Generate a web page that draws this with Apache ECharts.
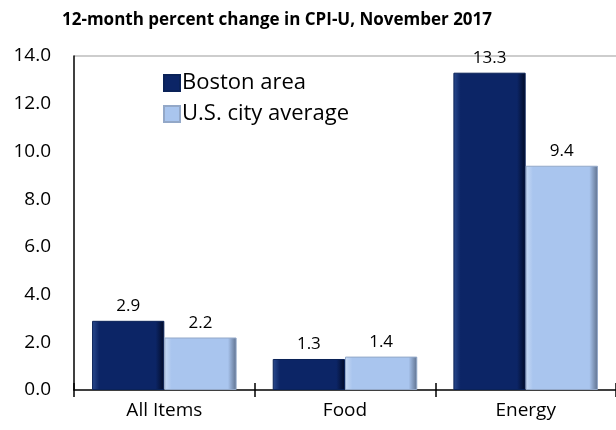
<!DOCTYPE html>
<html>
<head>
<meta charset="utf-8">
<script src="https://cdn.jsdelivr.net/npm/echarts@6/dist/echarts.min.js"></script>
<style>
  html, body { margin: 0; padding: 0; background: #fff; }
  #main { width: 616px; height: 430px; }
</style>
</head>
<body>
<div id="main"></div>
<script>
var categories = ["All Items", "Food", "Energy"];
var boston = [2.9, 1.3, 13.3];
var usAverage = [2.2, 1.4, 9.4];
var seriesNames = ["Boston area", "U.S. city average"];

var chart = echarts.init(document.getElementById("main"));

// bevel look: horizontal gradient, darker at the right edge
function bevel(light, mid, dark) {
  return new echarts.graphic.LinearGradient(0, 0, 1, 0, [
    { offset: 0, color: light },
    { offset: 0.1, color: mid },
    { offset: 0.88, color: mid },
    { offset: 1, color: dark }
  ]);
}

var labelStyle = {
  show: true,
  position: "top",
  distance: 6,
  fontFamily: "Open Sans",
  fontSize: 17,
  color: "#000",
  formatter: function (p) { return p.value.toFixed(1); }
};

var option = {
  animation: false,
  title: {
    text: "12-month percent change in CPI-U, November 2017",
    left: 57,
    top: 7,
    textStyle: { fontFamily: "Open Sans", fontWeight: "bold", fontSize: 17, color: "#000" }
  },
  legend: {
    orient: "vertical",
    left: 158,
    top: 67,
    itemWidth: 16,
    itemHeight: 16,
    itemGap: 9,
    icon: "rect",
    textStyle: { fontFamily: "Open Sans", fontSize: 22, color: "#000", padding: [0, 0, 0, -3] },
    data: seriesNames
  },
  grid: { left: 74, right: 0, top: 56, bottom: 40 },
  xAxis: [
    {
      type: "category",
      data: categories,
      axisLine: { lineStyle: { color: "#000", width: 1.5 } },
      axisTick: { show: true, length: 7, lineStyle: { color: "#000", width: 1.5 } },
      axisLabel: { fontFamily: "Open Sans", fontSize: 19, color: "#000", margin: 11 }
    },
    {
      type: "category",
      data: categories,
      position: "bottom",
      axisLine: { show: false },
      axisTick: { show: true, inside: true, length: 7, lineStyle: { color: "#000", width: 1.5 } },
      axisLabel: { show: false }
    }
  ],
  yAxis: {
    type: "value",
    min: 0,
    max: 14,
    interval: 2,
    axisLine: { show: true, lineStyle: { color: "#000", width: 1.5 } },
    axisTick: { show: false },
    axisLabel: {
      fontFamily: "Open Sans",
      fontSize: 19,
      color: "#000",
      margin: 23,
      formatter: function (v) { return v.toFixed(1); }
    },
    splitLine: {
      show: true,
      lineStyle: {
        color: ["rgba(0,0,0,0)", "rgba(0,0,0,0)", "rgba(0,0,0,0)", "rgba(0,0,0,0)",
                "rgba(0,0,0,0)", "rgba(0,0,0,0)", "rgba(0,0,0,0)", "#bdbdbd"],
        width: 1.5
      }
    }
  },
  series: [
    {
      name: seriesNames[0],
      type: "bar",
      data: boston,
      barGap: "0%",
      barCategoryGap: "20%",
      itemStyle: {
        color: bevel("#2a4a8e", "#0c2566", "#020b26"),
        borderColor: "#0a2258",
        borderWidth: 1
      },
      label: labelStyle
    },
    {
      name: seriesNames[1],
      type: "bar",
      data: usAverage,
      itemStyle: {
        color: bevel("#c9dbf5", "#a9c5ee", "#5d6f8c"),
        borderColor: "#93a8c8",
        borderWidth: 1
      },
      label: labelStyle
    }
  ]
};

chart.setOption(option);
</script>
</body>
</html>
